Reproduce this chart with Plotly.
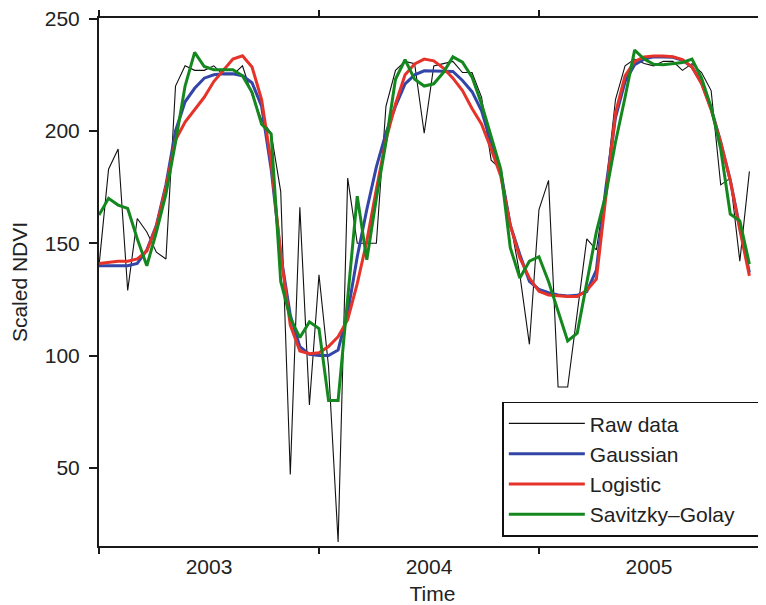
import numpy as np
import plotly.graph_objects as go

# ---- data (16-day composites, 23 per year, 2003-2005) ----
start_year = 2003
per_year = 23
n_points = 69
time = [start_year + k / per_year for k in range(n_points)]

raw = [140, 183, 192, 129, 161, 155, 146, 143, 220, 229, 227, 227, 229, 225, 225, 229,
       216, 205, 199, 173, 47, 166, 78,
       136, 95, 17, 179, 150, 150, 150, 211, 227, 231, 230, 199, 229, 230, 231, 226, 226,
       215, 187, 183, 160, 136, 105,
       165, 178, 86, 86, 120, 152, 147, 175, 214, 229, 232, 230, 229, 231, 231, 227, 230,
       226, 218, 176, 179, 142, 182]

gaussian = [140, 140, 140, 140, 141, 147, 158, 176, 200, 213, 219, 223.5, 225, 225.5, 225.5,
            224.6, 221.5, 211, 183, 145, 118, 104, 100.5,
            100, 100, 102.5, 119, 144, 165, 184, 199, 211, 221, 225, 226.8, 226.8, 226.8,
            226.5, 222.5, 217.5, 209, 194.5, 182, 158, 145, 133,
            129.5, 128, 127, 126.5, 126.8, 128.5, 138, 175, 206, 222, 229.5, 232, 233, 233,
            232.8, 231.5, 228.5, 221.5, 210, 195, 178, 157, 137]

logistic = [141, 141.5, 142, 142, 143, 146.5, 157.5, 175, 196, 204, 209.5, 215, 222, 227,
            232, 233.5, 228.5, 214, 186, 145, 113.5, 102, 100.8,
            101.2, 104, 108.4, 116, 132, 151, 174, 196, 212, 225, 229.8, 232, 231.2, 228,
            223.5, 218, 210, 203, 192, 180, 158, 143.5, 134.5,
            128.6, 127, 126.5, 126.3, 126.3, 129, 134, 170, 208, 224.5, 231, 233, 233.4,
            233.4, 233, 231.8, 228.5, 221, 209.5, 195, 178, 156, 135.5]

savgol = [162.6, 170, 167, 165.5, 152, 140, 155, 172, 195, 220, 235, 228.7, 227.3, 227.3,
          227.3, 224.6, 217.2, 203, 198.7, 133, 116.7, 108, 115,
          112, 80, 80, 125.5, 171, 142.6, 170, 195, 223, 231.7, 223, 220, 221, 226, 233,
          230.6, 224, 212, 197, 183, 148, 134.5, 142,
          144, 133, 120, 106.5, 110, 133, 155, 172, 195, 215, 236, 232, 229.7, 229.5, 230,
          230.5, 232, 223.5, 210.5, 192, 163, 160, 140.7]

year_ticks = [2003, 2004, 2005, 2006]
year_labels = ["2003", "2004", "2005", ""]
y_ticks = [50, 100, 150, 200, 250]

FONT = "Liberation Sans, Arial, Helvetica, sans-serif"
AX = "#1a1a1a"
FS = 21

fig = go.Figure()
series = [
    ("Raw data", raw, "#111111", 1.1),
    ("Gaussian", gaussian, "#3346A8", 3),
    ("Logistic", logistic, "#E5332A", 3),
    ("Savitzky\u2013Golay\u00a0\u00a0\u00a0", savgol, "#14881F", 3),
]
for i, (name, vals, col, w) in enumerate(series):
    fig.add_trace(go.Scatter(x=time, y=vals, mode="lines", name=name,
                             legendgroup=f"g{i}",
                             line=dict(color=col, width=w)))

# page body adds an 8px offset, so the figure is drawn 8px smaller
fig.update_layout(
    width=758, height=597,
    margin=dict(l=91, r=0, t=10, b=59, autoexpand=False),
    paper_bgcolor="white", plot_bgcolor="white",
    font=dict(family=FONT, size=FS, color="#222222"),
    showlegend=True,
    legend=dict(x=0.99, xanchor="right", y=0.0176, yanchor="bottom",
                bordercolor="#111111", borderwidth=1.5, bgcolor="white",
                font=dict(family=FONT, size=FS, color="#222222"),
                tracegroupgap=0, itemwidth=76),
    xaxis=dict(range=[2003, 2006.032], tickvals=year_ticks, ticktext=year_labels,
               ticklabelshift=110, ticklabelstandoff=-5,
               ticks="outside", ticklen=6, tickwidth=1.5,
               tickcolor=AX, showline=True, linecolor=AX, linewidth=2,
               mirror="ticks", showgrid=False, zeroline=False, automargin=False,
               tickfont=dict(size=FS), ticklabeloverflow="allow",
               title=dict(text="Time", standoff=19, font=dict(size=FS))),
    yaxis=dict(range=[15.2, 250.3], tickvals=y_ticks, ticks="outside", ticklen=8,
               ticklabelstandoff=5, ticklabeloverflow="allow",
               tickwidth=1.5, tickcolor=AX, showline=True, linecolor=AX, linewidth=2,
               showgrid=False, zeroline=False, automargin=False, tickfont=dict(size=FS),
               title=dict(text="Scaled NDVI", standoff=15, font=dict(size=FS))),
)

fig.write_html("out.html")
